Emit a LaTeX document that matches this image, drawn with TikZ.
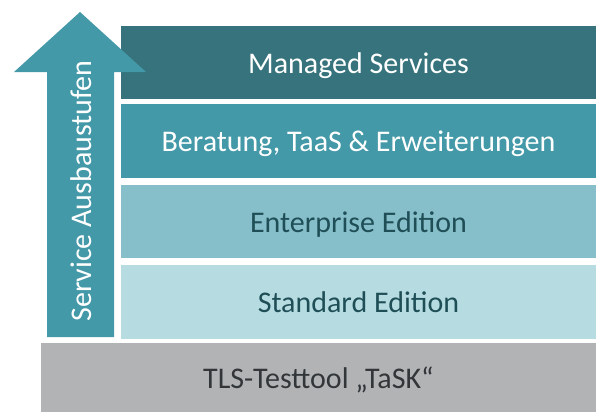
\documentclass[tikz,border=0pt]{standalone}
\usepackage{fontspec}
\setmainfont{Carlito}
\definecolor{cManaged}{HTML}{36737C}
\definecolor{cBeratung}{HTML}{4499A8}
\definecolor{cEnterprise}{HTML}{86BFC9}
\definecolor{cStandard}{HTML}{B6DCE2}
\definecolor{cBase}{HTML}{B1B3B5}
\definecolor{cDarkText}{HTML}{1F4E57}
\definecolor{cBaseText}{HTML}{333638}
\begin{document}
\begin{tikzpicture}[x=1pt,y=-1pt,
  layer/.style={draw=none, inner sep=0pt, minimum width=475pt, minimum height=74pt, text height=21.5pt, text depth=0pt, font=\fontsize{30}{34}\selectfont},
  arrowtext/.style={rotate=90, text=white, font=\fontsize{30}{34}\selectfont, inner sep=0pt}]
\useasboundingbox (0,0) rectangle (596,412);
\node[layer, fill=cManaged, text=white, minimum height=73pt] (managed) at (358.5,62.5) {Managed Services};
\node[layer, fill=cBeratung, text=white] (beratung) at (358.5,141) {Beratung, TaaS \& Erweiterungen};
\node[layer, fill=cEnterprise, text=cDarkText, minimum height=73pt] (enterprise) at (358.5,221.5) {Enterprise Edition};
\node[layer, fill=cStandard, text=cDarkText] (standard) at (358.5,302) {Standard Edition};
\node[layer, fill=cBase, text=cBaseText, minimum width=555pt, minimum height=69pt] (base) at (318.5,377.5) {TLS-Testtool „TaSK“};
\fill[cBeratung] (80,12) -- (146,72) -- (114,72) -- (114,337) -- (47,337) -- (47,72) -- (14,72) -- cycle;
\node[arrowtext] (label) at (81,191) {Service Ausbaustufen};
\end{tikzpicture}
\end{document}
